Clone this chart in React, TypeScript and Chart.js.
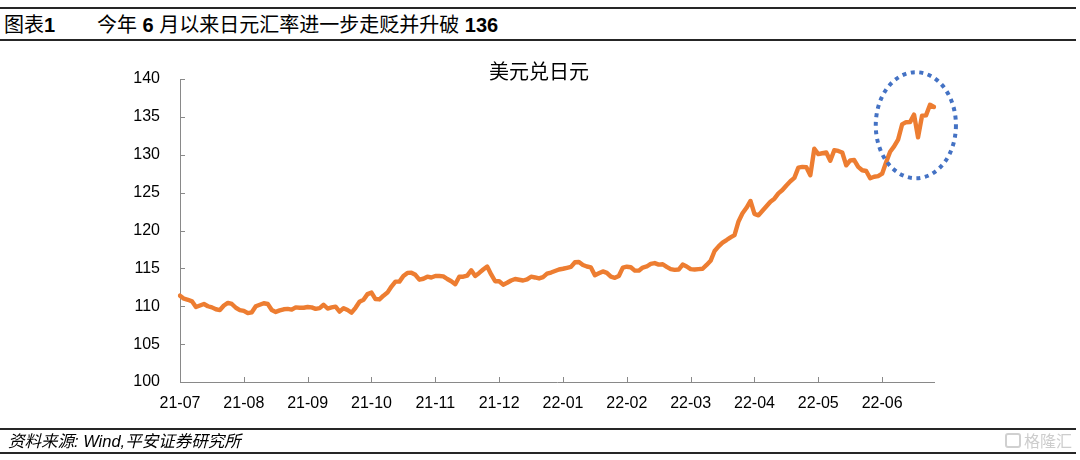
import React, { useEffect, useRef } from 'react';
import { Chart, registerables } from 'chart.js';

Chart.register(...registerables);

// ---------- data ----------
const figureLabel = '图表1';
const figureTitleParts = [
  { t: '今年 ', b: false },
  { t: '6', b: true },
  { t: ' 月以来日元汇率进一步走贬并升破 ', b: false },
  { t: '136', b: true },
];
const chartTitle = '美元兑日元';
const sourceText = '资料来源: Wind,平安证券研究所';
const watermarkText = '格隆汇';

const monthLabels = ['21-07', '21-08', '21-09', '21-10', '21-11', '21-12', '22-01', '22-02', '22-03', '22-04', '22-05', '22-06'];
const pointsPerMonth = 16;

const usdJpy = [
  111.4, 111.0, 110.85, 110.65, 109.9, 110.1, 110.3, 110.0, 109.85, 109.6,
  109.5, 110.1, 110.45, 110.3, 109.8, 109.5, 109.4, 109.1, 109.2, 110.0,
  110.2, 110.4, 110.3, 109.5, 109.25, 109.45, 109.6, 109.65, 109.55, 109.85,
  109.8, 109.8, 109.9, 109.85, 109.65, 109.75, 110.2, 109.7, 109.85, 109.95,
  109.3, 109.75, 109.5, 109.15, 109.8, 110.6, 110.85, 111.6, 111.8, 110.95,
  110.9, 111.4, 111.8, 112.6, 113.25, 113.25, 114.0, 114.4, 114.42, 114.15,
  113.5, 113.63, 113.9, 113.8, 114.0, 114.0, 113.95, 113.6, 113.3, 112.9,
  113.9, 113.9, 114.05, 114.75, 114.0, 114.4, 114.85, 115.25, 114.2, 113.3,
  113.3, 112.85, 113.1, 113.4, 113.6, 113.5, 113.4, 113.55, 113.9, 113.8,
  113.67, 113.85, 114.3, 114.45, 114.65, 114.85, 114.95, 115.08, 115.2, 115.8,
  115.85, 115.45, 115.25, 115.13, 114.1, 114.35, 114.6, 114.4, 113.9, 113.75,
  114.0, 115.1, 115.22, 115.15, 114.7, 114.7, 115.11, 115.25, 115.6, 115.7,
  115.5, 115.55, 115.2, 114.9, 114.8, 114.85, 115.5, 115.25, 114.9, 114.85,
  114.9, 114.95, 115.45, 116.0, 117.3, 117.9, 118.4, 118.74, 119.1, 119.4,
  121.2, 122.27, 123.0, 123.9, 122.2, 122.0, 122.6, 123.2, 123.8, 124.2,
  124.9, 125.35, 125.95, 126.5, 126.95, 128.3, 128.4, 128.35, 127.3, 130.8,
  130.08, 130.2, 130.3, 129.2, 130.6, 130.5, 130.3, 128.6, 129.25, 129.3,
  128.4, 127.95, 127.85, 126.9, 127.1, 127.18, 127.5, 129.0, 130.4, 131.1,
  132.0, 134.0, 134.3, 134.31, 135.3, 132.3, 135.15, 135.2, 136.6, 136.3,
];

const yMin = 100;
const yMax = 140;
const yStep = 5;

// highlighted region (in data units: index range and value range)
const highlightIndex = [174.4, 194.5];
const highlightValue = [126.9, 140.9];

// ---------- styles ----------
const W = 1080;
const H = 460;
const lineColor = '#ED7D31';
const axisColor = '#898989';
const ellipseColor = '#4472C4';
const latin = '"Liberation Sans", Arial, "Noto Sans CJK SC", sans-serif';
const cjk = '"Liberation Sans", "Noto Sans CJK SC", sans-serif';

const decorPlugin = {
  id: 'decor',
  afterDraw(chart: any) {
    const { ctx, chartArea, scales } = chart;
    const xs = scales.x;
    const ys = scales.y;
    ctx.save();
    ctx.strokeStyle = axisColor;
    ctx.lineWidth = 1;
    ctx.beginPath();
    for (let v = yMin; v <= yMax; v += yStep) {
      const py = Math.round(ys.getPixelForValue(v)) + 0.5;
      ctx.moveTo(chartArea.left, py);
      ctx.lineTo(chartArea.left + 5, py);
    }
    monthLabels.forEach((_, k) => {
      if (k === 0) return;
      const px = Math.round(xs.getPixelForValue(k * pointsPerMonth)) + 0.5;
      ctx.moveTo(px, chartArea.bottom);
      ctx.lineTo(px, chartArea.bottom - 5);
    });
    ctx.stroke();

    const x0 = xs.getPixelForValue(highlightIndex[0]);
    const x1 = xs.getPixelForValue(highlightIndex[1]);
    const y0 = ys.getPixelForValue(highlightValue[1]);
    const y1 = ys.getPixelForValue(highlightValue[0]);
    ctx.beginPath();
    ctx.ellipse((x0 + x1) / 2, (y0 + y1) / 2, (x1 - x0) / 2, (y1 - y0) / 2, 0, 0, Math.PI * 2);
    ctx.strokeStyle = ellipseColor;
    ctx.lineWidth = 4;
    ctx.setLineDash([4, 4.6]);
    ctx.lineCap = 'butt';
    ctx.stroke();
    ctx.restore();
  },
};

function UsdJpyChart() {
  const ref = useRef<HTMLCanvasElement | null>(null);
  useEffect(() => {
    if (!ref.current) return;
    const labels = usdJpy.map((_, i) =>
      i % pointsPerMonth === 0 && monthLabels[i / pointsPerMonth] ? monthLabels[i / pointsPerMonth] : ''
    );
    const chart = new Chart(ref.current, {
      type: 'line',
      data: {
        labels,
        datasets: [
          {
            data: usdJpy,
            borderColor: lineColor,
            backgroundColor: lineColor,
            borderWidth: 4.4,
            pointRadius: 0,
            tension: 0,
            fill: false,
            borderJoinStyle: 'round',
            borderCapStyle: 'round',
          },
        ],
      },
      options: {
        animation: false,
        responsive: false,
        maintainAspectRatio: false,
        devicePixelRatio: 1,
        events: [],
        layout: { padding: { left: 0, right: 146, top: 79, bottom: 0 } },
        plugins: {
          legend: { display: false },
          tooltip: { enabled: false },
          title: { display: false },
        },
        scales: {
          x: {
            type: 'category',
            offset: false,
            grid: { display: false, drawTicks: false },
            border: { display: true, color: axisColor, width: 1 },
            ticks: {
              autoSkip: false,
              maxRotation: 0,
              minRotation: 0,
              padding: 12,
              color: '#000',
              font: { family: latin, size: 16 },
            },
            afterFit: (s: any) => {
              s.height = 78;
            },
          },
          y: {
            min: yMin,
            max: yMax,
            grid: { display: false, drawTicks: false },
            border: { display: true, color: axisColor, width: 1 },
            ticks: {
              stepSize: yStep,
              padding: 20,
              color: '#000',
              font: { family: latin, size: 16 },
            },
            afterFit: (s: any) => {
              s.width = 180;
            },
          },
        },
      },
      plugins: [decorPlugin],
    } as any);
    return () => chart.destroy();
  }, []);
  return <canvas ref={ref} width={W} height={H} style={{ position: 'absolute', left: 0, top: 0, width: W, height: H }} />;
}

export default function App() {
  return (
    <div style={{ position: 'fixed', left: 0, top: 0, width: W, height: H, background: '#fff', overflow: 'hidden' }}>
      {/* header */}
      <div style={{ position: 'absolute', left: 0, top: 7, width: 1076, height: 2, background: '#262626' }} />
      <div style={{ position: 'absolute', left: 4, top: 12, height: 26, lineHeight: '26px', fontFamily: cjk, fontSize: 20, color: '#000', whiteSpace: 'nowrap' }}>
        {figureLabel.slice(0, 2)}
        <b style={{ fontFamily: latin }}>{figureLabel.slice(2)}</b>
      </div>
      <div style={{ position: 'absolute', left: 97, top: 12, height: 26, lineHeight: '26px', fontFamily: cjk, fontSize: 20, color: '#000', whiteSpace: 'pre' }}>
        {figureTitleParts.map((p, i) =>
          p.b ? (
            <b key={i} style={{ fontFamily: latin }}>{p.t}</b>
          ) : (
            <span key={i}>{p.t}</span>
          )
        )}
      </div>
      <div style={{ position: 'absolute', left: 0, top: 39, width: 1076, height: 2, background: '#262626' }} />

      <UsdJpyChart />

      {/* chart title */}
      <div style={{ position: 'absolute', left: 539, top: 70, transform: 'translate(-50%, -50%)', fontFamily: cjk, fontSize: 20, color: '#000', whiteSpace: 'nowrap' }}>
        {chartTitle}
      </div>

      {/* footer */}
      <div style={{ position: 'absolute', left: 0, top: 428, width: 1076, height: 1.5, background: '#262626' }} />
      <div style={{ position: 'absolute', left: 8, top: 431, height: 20, lineHeight: '20px', fontFamily: cjk, fontSize: 16.5, fontStyle: 'italic', color: '#000', whiteSpace: 'nowrap' }}>
        {sourceText}
      </div>
      <div style={{ position: 'absolute', left: 0, top: 452, width: 1076, height: 2, background: '#262626' }} />
      <div style={{ position: 'absolute', left: 1005, top: 430, height: 20, display: 'flex', alignItems: 'center', gap: 3, color: '#cdcdcd', fontFamily: cjk, fontSize: 16, whiteSpace: 'nowrap' }}>
        <span style={{ display: 'inline-block', width: 16, height: 15, border: '2.5px solid #d0d0d0', borderRadius: 3, boxSizing: 'border-box' }} />
        <span>{watermarkText}</span>
      </div>
    </div>
  );
}
